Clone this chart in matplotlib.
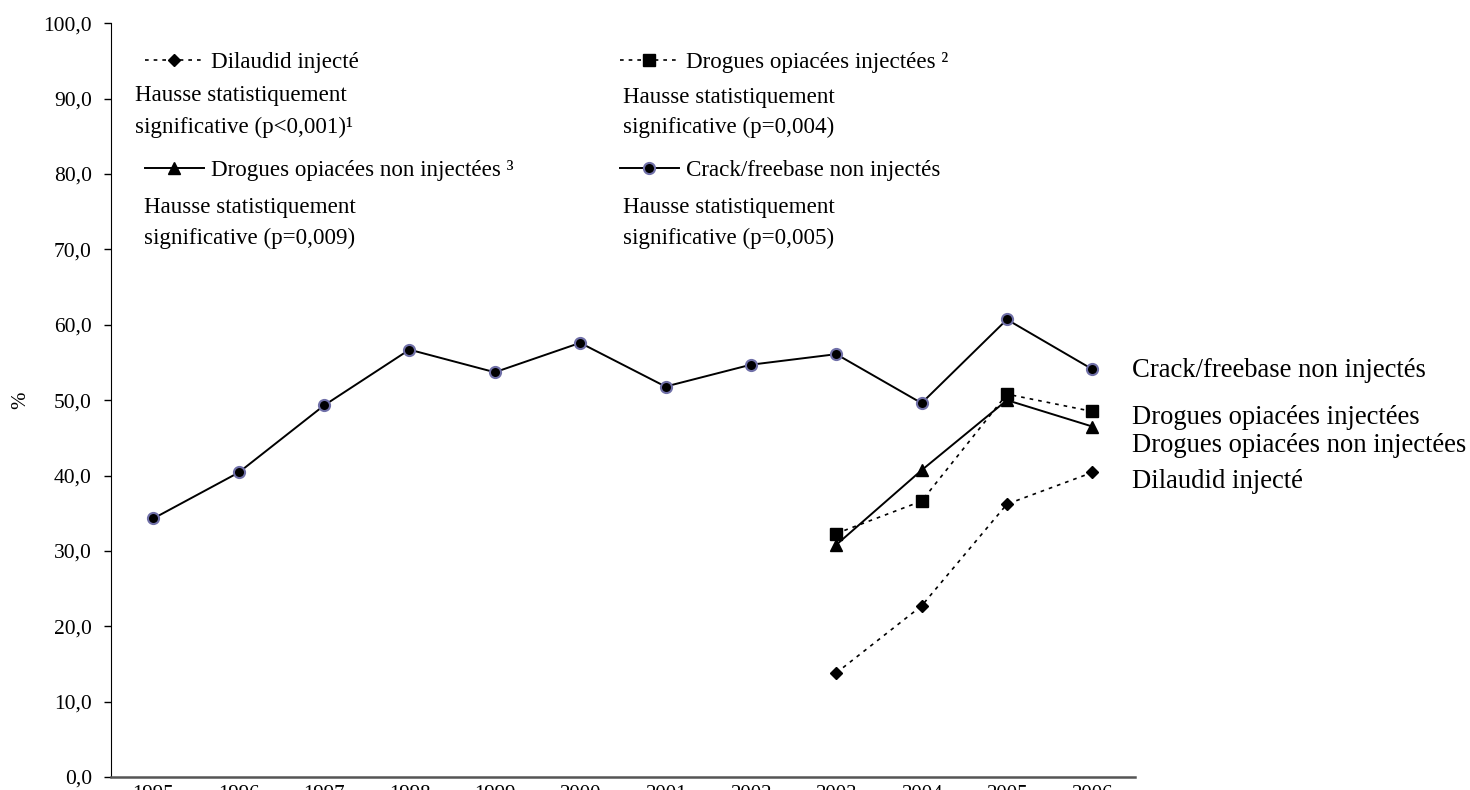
import matplotlib.pyplot as plt

plt.rcParams['font.family'] = ['Liberation Serif', 'DejaVu Serif']

# Données
annees = [1995, 1996, 1997, 1998, 1999, 2000, 2001, 2002, 2003, 2004, 2005, 2006]
crack = [34.3, 40.4, 49.3, 56.7, 53.7, 57.6, 51.8, 54.7, 56.1, 49.6, 60.7, 54.1]
annees_opi = [2003, 2004, 2005, 2006]
opi_inj = [32.3, 36.6, 50.8, 48.5]
opi_non_inj = [30.8, 40.7, 50.0, 46.5]
dilaudid = [13.8, 22.7, 36.2, 40.4]

noms = ['Crack/freebase non injectés', 'Drogues opiacées injectées',
        'Drogues opiacées non injectées', 'Dilaudid injecté']
tests = ['(p=0,005)', '(p=0,004)', '(p=0,009)', '(p<0,001)¹']

fig = plt.figure(figsize=(14.7, 7.9), dpi=100)
ax = fig.add_axes([0.0753, 0.0165, 0.6968, 0.954])

l_dil, = ax.plot(annees_opi, dilaudid, color='black', lw=1.2, ls=(0, (2.2, 3)),
                 marker='D', ms=6, label=noms[3])
l_inj, = ax.plot(annees_opi, opi_inj, color='black', lw=1.2, ls=(0, (2.2, 3)),
                 marker='s', ms=8, label=noms[1] + ' ²')
l_non, = ax.plot(annees_opi, opi_non_inj, color='black', lw=1.4, ls='-',
                 marker='^', ms=8.5, label=noms[2] + ' ³')
l_crk, = ax.plot(annees, crack, color='black', lw=1.4, ls='-',
                 marker='o', ms=8, mfc='black', mec='#7070a8', mew=1.5,
                 label=noms[0])

ax.set_xlim(1994.5, 2006.5)
ax.set_ylim(0, 100)
ax.set_yticks(range(0, 101, 10))
ax.set_yticklabels([f'{v},0' for v in range(0, 101, 10)], fontsize=15.5)
ax.set_xticks(annees)
ax.set_xticklabels([str(a) for a in annees], fontsize=15)
ax.tick_params(axis='x', length=0, pad=6)
ax.tick_params(axis='y', length=5, width=1, direction='out', pad=8.5)
ax.spines['top'].set_visible(False)
ax.spines['right'].set_visible(False)
ax.spines['bottom'].set_color('#555555')
ax.spines['bottom'].set_linewidth(1.8)
ax.set_ylabel('%', fontsize=15)
ax.yaxis.set_label_coords(-0.079, 0.5)

# Légendes manuelles (une entrée chacune)
def legende(ligne, x, y):
    leg = fig.legend(handles=[ligne], loc='center left',
                     bbox_to_anchor=(x / 1470, 1 - y / 790),
                     bbox_transform=fig.transFigure, frameon=False,
                     fontsize=16.6, handlelength=2.55, handletextpad=0.3,
                     borderpad=0, borderaxespad=0, numpoints=1)
    return leg

legende(l_dil, 145, 62)
legende(l_inj, 620, 62)
legende(l_non, 145, 170)
legende(l_crk, 620, 170)

def bloc(x, y1, y2, test):
    fig.text(x / 1470, 1 - y1 / 790, 'Hausse statistiquement', fontsize=16.6,
             va='center', ha='left')
    fig.text(x / 1470, 1 - y2 / 790, 'significative ' + test, fontsize=16.6,
             va='center', ha='left')

bloc(135, 96, 127, tests[3])
bloc(623, 97, 127, tests[1])
bloc(144, 208, 238, tests[2])
bloc(623, 208, 238, tests[0])

# Étiquettes à droite
for nom, y in zip(noms, [370, 417, 446, 482]):
    fig.text(1132 / 1470, 1 - y / 790, nom, fontsize=19.2, va='center', ha='left')

fig.savefig('out.png', dpi=100)
